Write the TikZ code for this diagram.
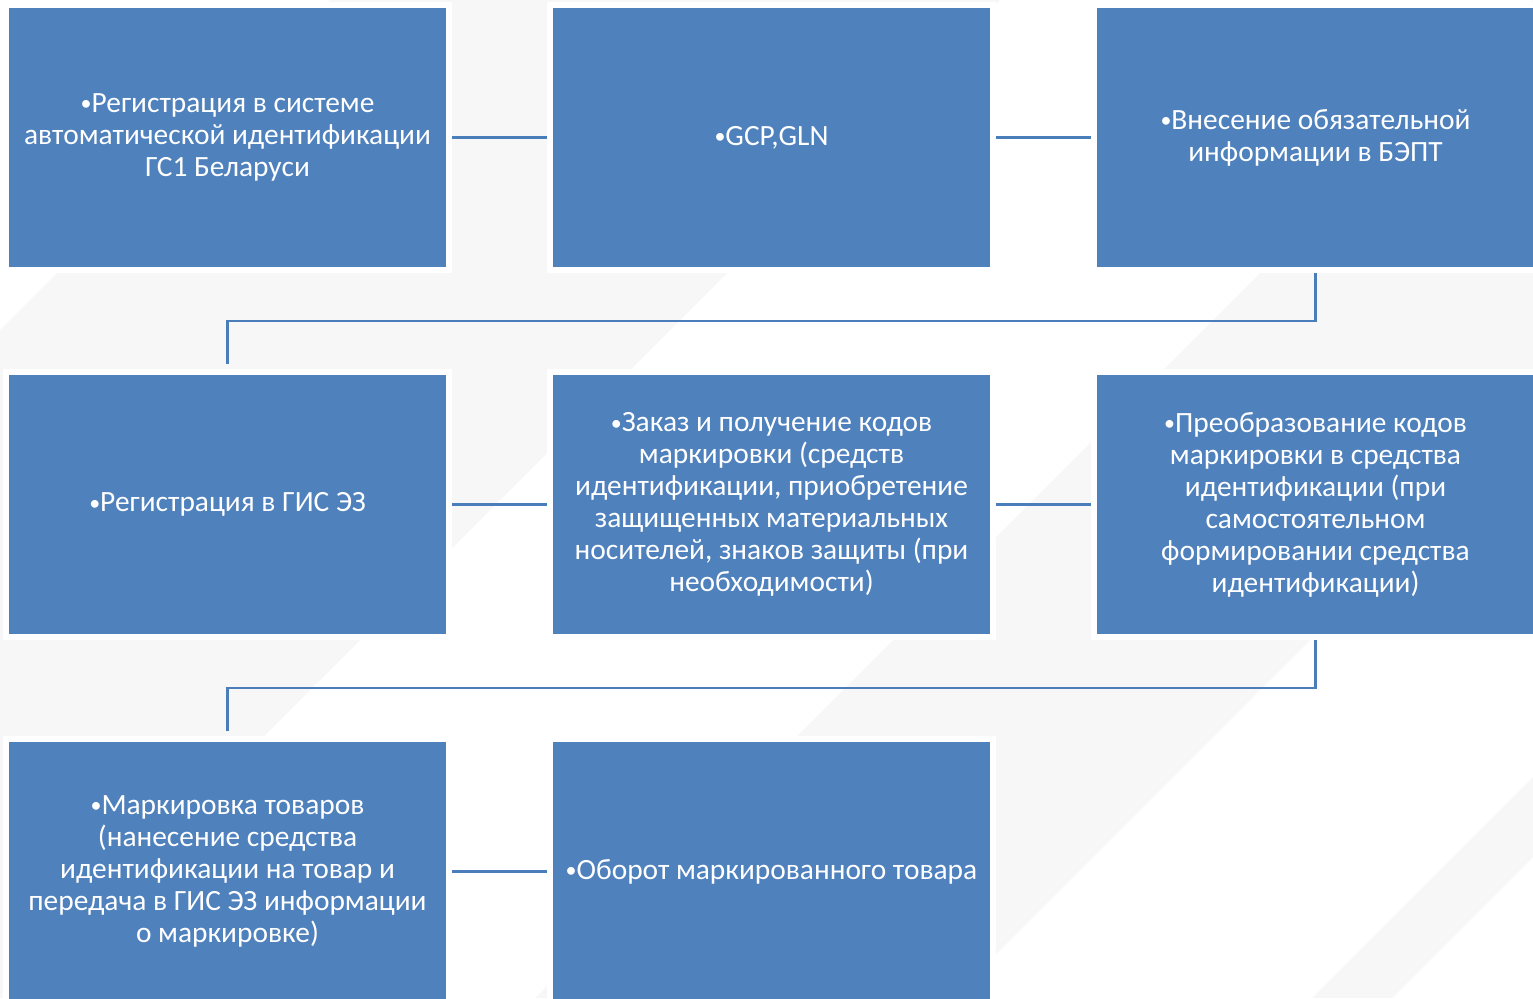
\documentclass[tikz,border=0pt]{standalone}
\usepackage{fontspec}
\setmainfont{Carlito}
\usetikzlibrary{positioning}
\definecolor{boxblue}{HTML}{4F81BD}
\definecolor{lineblue}{HTML}{4A7EBB}
\definecolor{bandgray}{HTML}{F7F7F7}
\newcommand{\bul}{\raisebox{0.8pt}{\fontsize{11}{11}\selectfont •}}

\begin{document}
\begin{tikzpicture}[x=0.5pt,y=-0.5pt,node distance=47.5pt,font=\fontsize{14.7}{16}\selectfont]
        \tikzstyle{stage}=[fill=boxblue,draw=white,line width=3pt,minimum width=221.5pt,minimum height=132.5pt,inner sep=0pt,text=white,align=center]
        \tikzstyle{link}=[draw=lineblue,line width=1.25pt]
        \tikzstyle{band}=[fill=bandgray,draw=none]

        \useasboundingbox (0,0) rectangle (1533,998);
        % background with light diagonal bands
        \begin{scope}
          \clip (0,0) rectangle (1533,998);
          \fill[white] (0,0) rectangle (1533,998);
          \path[band] (330,0) -- (1000,0) -- (2,998) -- (-668,998) -- cycle;
          \path[band] (1533,0) -- (1950,0) -- (952,998) -- (535,998) -- cycle;
          \path[band] (2310,0) -- (2390,0) -- (1392,998) -- (1312,998) -- cycle;
        \end{scope}

        \node[stage] (b1) at (227.5,137.5) {\bul Регистрация в системе\\автоматической идентификации\\ГС1 Беларуси};
        \node[stage,right=of b1] (b2) {\bul GCP,GLN};
        \node[stage,right=of b2] (b3) {\bul Внесение обязательной\\информации в БЭПТ};
        \node[stage,below=48pt of b1] (b4) {\bul Регистрация в ГИС ЭЗ};
        \node[stage,right=of b4] (b5) {\bul Заказ и получение кодов\\маркировки (средств\\идентификации, приобретение\\защищенных материальных\\носителей, знаков защиты (при\\необходимости)};
        \node[stage,right=of b5] (b6) {\bul Преобразование кодов\\маркировки в средства\\идентификации (при\\самостоятельном\\формировании средства\\идентификации)};
        \node[stage,below=48pt of b4] (b7) {\bul Маркировка товаров\\(нанесение средства\\идентификации на товар и\\передача в ГИС ЭЗ информации\\о маркировке)};
        \node[stage,right=of b7] (b8) {\bul Оборот маркированного товара};

        \draw[link] (b1) -- (b2);
        \draw[link] (b2) -- (b3);
        \draw[link,shorten >=2.5pt] (b3.south) -- ++(0,48) -| (b4.north);
        \draw[link] (b4) -- (b5);
        \draw[link] (b5) -- (b6);
        \draw[link,shorten >=2.5pt] (b6.south) -- ++(0,48) -| (b7.north);
        \draw[link] (b7) -- (b8);
    \end{tikzpicture}
\end{document}
